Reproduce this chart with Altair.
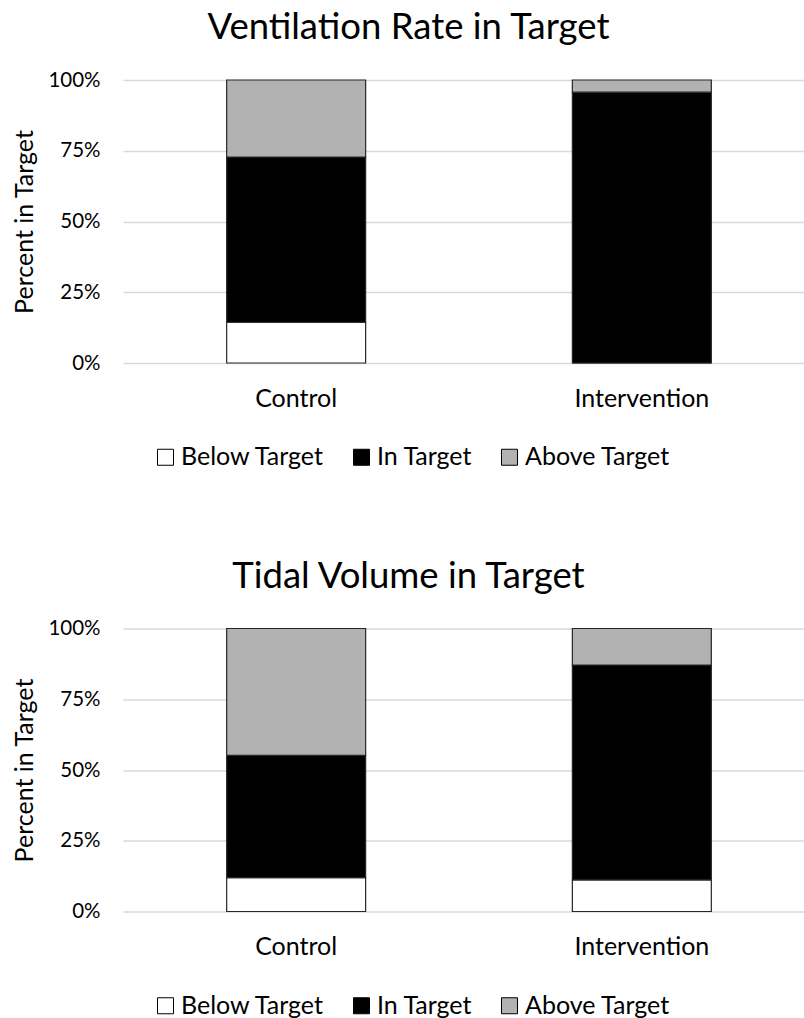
import altair as alt
import pandas as pd

groups = ["Control", "Intervention"]
categories = ["Below Target", "In Target", "Above Target"]

vent_below = [14.4, 0.0]
vent_in = [58.4, 95.7]
vent_above = [27.2, 4.3]

tidal_below = [12.0, 11.2]
tidal_in = [43.2, 75.9]
tidal_above = [44.8, 12.9]

colors = ["#ffffff", "#000000", "#b2b2b2"]
y_ticks = [0, 25, 50, 75, 100]

FONT = "Lato"


def make_df(below, inn, above):
    rows = []
    for i, g in enumerate(groups):
        for k, (cat, vals) in enumerate(zip(categories, [below, inn, above])):
            rows.append({"group": g, "category": cat, "value": vals[i], "order": k})
    return pd.DataFrame(rows)


def panel(df, title):
    return (
        alt.Chart(
            df,
            title=alt.TitleParams(
                title, fontSize=36.5, font=FONT, fontWeight="normal", color="#000000",
                anchor="middle", frame="bounds", offset=23.5,
            ),
        )
        .mark_bar(stroke="#262626", strokeWidth=1.2)
        .encode(
            x=alt.X(
                "group:N", sort=groups, title=None,
                scale=alt.Scale(paddingInner=0.598, paddingOuter=0.284, align=0.528),
                axis=alt.Axis(labelAngle=0, labelFontSize=25, labelFont=FONT, labelColor="#000000",
                              domain=False, ticks=False, labelPadding=23, grid=False),
            ),
            y=alt.Y(
                "value:Q", stack="zero", scale=alt.Scale(domain=[0, 100]),
                axis=alt.Axis(values=y_ticks, labelExpr="datum.value + '%'", title="Percent in Target",
                              labelFontSize=20.5, labelFont=FONT, labelColor="#000000", labelPadding=23,
                              domain=False, ticks=False, grid=True, gridColor="#d9d9d9", gridWidth=1.5,
                              titleFontSize=25, titleFont=FONT, titleFontWeight="normal",
                              titleColor="#000000", titlePadding=10),
            ),
            color=alt.Color(
                "category:N", sort=categories,
                scale=alt.Scale(domain=categories, range=colors),
                legend=alt.Legend(title=None, orient="none", legendX=30, legendY=364.5,
                                  direction="horizontal",
                                  symbolType="square", symbolSize=256, symbolStrokeColor="#000000",
                                  symbolStrokeWidth=1, labelFontSize=25, labelFont=FONT,
                                  labelColor="#000000", labelOffset=3, columnPadding=24, padding=0),
            ),
            order=alt.Order("order:Q"),
        )
        .properties(width=681, height=283)
    )


top = panel(make_df(vent_below, vent_in, vent_above), "Ventilation Rate in Target")
bottom = panel(make_df(tidal_below, tidal_in, tidal_above), "Tidal Volume in Target")

chart = (
    alt.vconcat(top, bottom, spacing=87.5)
    .resolve_scale(color="independent")
    .resolve_legend(color="independent")
    .properties(padding={"left": 12, "top": 10, "right": 0, "bottom": 0}, background="white")
    .configure_view(stroke=None)
)

chart.save("out.html", embed_options={"renderer": "svg", "actions": False})
